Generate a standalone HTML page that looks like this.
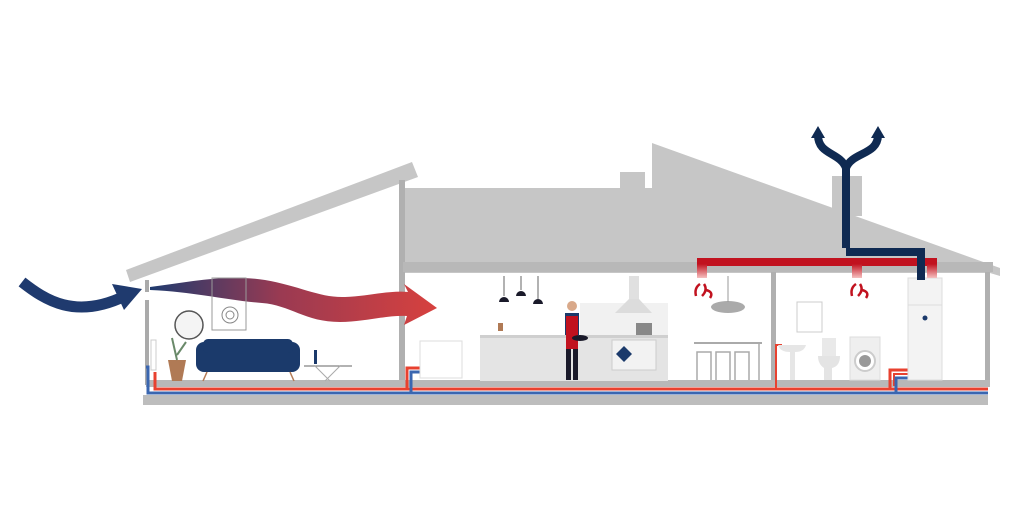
<!DOCTYPE html>
<html><head><style>
html,body{margin:0;padding:0;background:#fff}
svg{display:block}
</style></head><body>
<svg width="1024" height="512" viewBox="0 0 1024 512" xmlns="http://www.w3.org/2000/svg">
<defs>
<linearGradient id="wave" x1="150" y1="0" x2="440" y2="0" gradientUnits="userSpaceOnUse">
<stop offset="0" stop-color="#1f3a6e"/><stop offset="0.45" stop-color="#9a3a52"/><stop offset="1" stop-color="#d8413e"/>
</linearGradient>
<linearGradient id="rd" x1="0" y1="0" x2="0" y2="1"><stop offset="0" stop-color="#c1121f"/><stop offset="1" stop-color="#f5c0c0"/></linearGradient>
</defs>
<polygon points="403,188 620,188 620,172 645,172 645,188 652,188 652,143 1000,268 1000,276 990,273 403,273" fill="#c6c6c6"/>
<rect x="832" y="176" width="30" height="40" fill="#c6c6c6"/>
<polygon points="126,270 412,162 418,177 130,282" fill="#c6c6c6"/>
<rect x="145" y="280" width="4" height="12" fill="#aaa"/>
<rect x="145" y="300" width="4" height="85" fill="#aaa"/>
<rect x="399" y="180" width="6" height="205" fill="#b0b0b0"/>
<rect x="403" y="262" width="590" height="10" fill="#b8b8b8"/>
<rect x="771" y="272" width="5" height="110" fill="#b0b0b0"/>
<rect x="985" y="272" width="5" height="112" fill="#b0b0b0"/>
<rect x="146" y="380" width="844" height="7" fill="#b8b8b8"/>
<rect x="143" y="395" width="845" height="10" fill="#bdbdbd"/>
<path d="M155,372 V389 H988" stroke="#e8412f" stroke-width="3" fill="none"/>
<path d="M146,367 H148 V393 H988" stroke="#3a66b0" stroke-width="3" fill="none"/>
<path d="M407,389 V368 H420" stroke="#e8412f" stroke-width="3" fill="none"/>
<path d="M411,393 V372 H420" stroke="#3a66b0" stroke-width="3" fill="none"/>
<path d="M776,388 V345 H782" stroke="#e8412f" stroke-width="2" fill="none"/>
<path d="M890,389 V370 H910" stroke="#e8412f" stroke-width="3" fill="none"/>
<path d="M894,386 V374 H910" stroke="#e8412f" stroke-width="2" fill="none"/>
<path d="M896,393 V378 H910" stroke="#3a66b0" stroke-width="3" fill="none"/>
<path d="M22,282 C45,300 75,320 125,296" stroke="#1f3a6e" stroke-width="11" fill="none"/>
<polygon points="112,284 142,289 124,310" fill="#1f3a6e"/>
<path d="M150,287 C190,282 225,274 265,280 C300,286 320,298 345,297 C370,296 390,290 408,292 L404,284 L437,308 L404,325 L407,316 C385,315 365,322 340,322 C305,322 290,305 262,303 C225,300 195,292 150,290 Z" fill="url(#wave)"/>
<rect x="212" y="278" width="34" height="52" fill="none" stroke="#999" stroke-width="1"/>
<circle cx="230" cy="315" r="8" fill="none" stroke="#888"/><circle cx="230" cy="315" r="4" fill="none" stroke="#888"/>
<circle cx="189" cy="325" r="14" fill="#f4f4f4" stroke="#555" stroke-width="1.5"/>
<rect x="196" y="342" width="104" height="30" rx="8" fill="#1b3a6b"/>
<rect x="203" y="339" width="90" height="14" rx="5" fill="#1b3a6b"/>
<line x1="207" y1="372" x2="203" y2="381" stroke="#b47a55" stroke-width="1.5"/>
<line x1="290" y1="372" x2="294" y2="381" stroke="#b47a55" stroke-width="1.5"/>
<polygon points="168,360 186,360 182,381 172,381" fill="#b07a55"/>
<path d="M177,360 L172,338 M177,355 L186,342" stroke="#6a8a6a" stroke-width="2"/>
<line x1="304" y1="366" x2="352" y2="366" stroke="#666"/>
<path d="M315,366 L330,381 M340,366 L325,381" stroke="#aaa"/>
<rect x="314" y="350" width="3" height="14" fill="#1b3a6b"/>
<rect x="151" y="340" width="5" height="30" fill="none" stroke="#ccc"/>
<rect x="420" y="341" width="42" height="37" fill="#fff" stroke="#ddd"/>
<line x1="504" y1="276" x2="504" y2="296" stroke="#666"/><path d="M499,302 a5,5 0 0 1 10,0z" fill="#1a1a2a"/>
<line x1="521" y1="276" x2="521" y2="290" stroke="#666"/><path d="M516,296 a5,5 0 0 1 10,0z" fill="#1a1a2a"/>
<line x1="538" y1="276" x2="538" y2="299" stroke="#666"/><path d="M533,304 a5,5 0 0 1 10,0z" fill="#1a1a2a"/>
<rect x="580" y="303" width="88" height="35" fill="#f1f1f1"/>
<rect x="629" y="276" width="10" height="26" fill="#e0e0e0"/>
<polygon points="629,299 639,299 652,313 615,313" fill="#dcdcdc"/>
<rect x="480" y="337" width="188" height="44" fill="#e4e4e4"/>
<rect x="480" y="335" width="188" height="3" fill="#cfcfcf"/>
<rect x="612" y="340" width="44" height="30" fill="#f2f2f2" stroke="#ccc"/>
<polygon points="624,346 632,354 624,362 616,354" fill="#1b3a6b"/>
<rect x="636" y="323" width="16" height="12" fill="#888"/>
<rect x="498" y="323" width="5" height="8" fill="#b07a55"/>
<circle cx="572" cy="306" r="5" fill="#d9a98a"/>
<rect x="565" y="313" width="14" height="22" fill="#1b3a6b"/>
<rect x="566" y="316" width="12" height="33" fill="#c1121f"/>
<rect x="566" y="349" width="5" height="31" fill="#1a1a2a"/><rect x="573" y="349" width="5" height="31" fill="#1a1a2a"/>
<ellipse cx="580" cy="338" rx="8" ry="3" fill="#1a1a2a"/>
<ellipse cx="728" cy="307" rx="17" ry="6" fill="#aaa"/><line x1="728" y1="276" x2="728" y2="302" stroke="#999"/>
<rect x="694" y="342" width="68" height="2" fill="#aaa"/>
<g stroke="#aaa" stroke-width="1.5" fill="none">
<path d="M697,380 V352 H711 V380 M716,380 V352 H730 V380 M735,380 V352 H749 V380"/><line x1="759" y1="344" x2="759" y2="380"/></g>
<rect x="797" y="302" width="25" height="30" fill="#fff" stroke="#ccc"/>
<path d="M778,345 H806 Q804,352 795,352 V380 H790 V352 Q780,352 778,345Z" fill="#e6e6e6"/>
<rect x="822" y="338" width="14" height="18" fill="#e9e9e9"/>
<path d="M818,356 H840 Q840,366 832,368 V380 H824 V368 Q818,364 818,356Z" fill="#e4e4e4"/>
<rect x="850" y="337" width="30" height="43" fill="#efefef" stroke="#ddd"/>
<circle cx="865" cy="361" r="10" fill="#fff" stroke="#ccc" stroke-width="2"/><circle cx="865" cy="361" r="6" fill="#999"/>
<rect x="908" y="278" width="34" height="102" fill="#f3f3f3" stroke="#ddd"/>
<line x1="908" y1="305" x2="942" y2="305" stroke="#ddd"/>
<circle cx="925" cy="318" r="2.5" fill="#1b3a6b"/>
<rect x="697" y="258" width="240" height="8" fill="#c1121f"/>
<rect x="697" y="264" width="10" height="14" fill="url(#rd)"/>
<rect x="852" y="264" width="10" height="14" fill="url(#rd)"/>
<rect x="927" y="264" width="10" height="14" fill="url(#rd)"/>
<g stroke="#c1121f" stroke-width="2.5" fill="none">
<path d="M700,284 q-6,4 -4,12 M704,284 q4,6 -2,12 M706,290 q8,2 4,8"/>
<path d="M856,284 q-6,4 -4,12 M860,284 q4,6 -2,12 M862,290 q8,2 4,8"/></g>
<path d="M846,248 V165 M846,168 C840,152 818,155 818,135 M846,168 C852,152 878,155 878,135 M846,252 H921 V280" stroke="#0f2a52" stroke-width="8" fill="none" stroke-linejoin="miter"/>
<polygon points="811,138 818,126 825,138" fill="#0f2a52"/>
<polygon points="871,138 878,126 885,138" fill="#0f2a52"/>
</svg>
</body></html>
